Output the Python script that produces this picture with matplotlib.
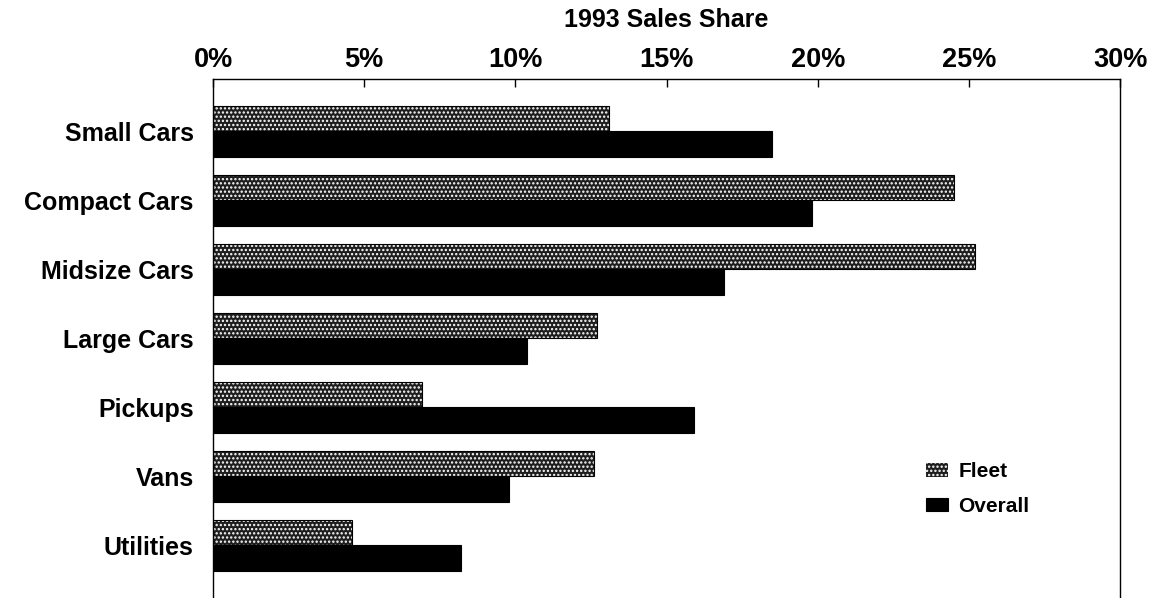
import matplotlib.pyplot as plt
from matplotlib.ticker import FuncFormatter

plt.rcParams['font.family'] = ['Liberation Sans', 'DejaVu Sans']
plt.rcParams['font.weight'] = 'bold'
plt.rcParams['hatch.linewidth'] = 1.1

categories = ['Small Cars', 'Compact Cars', 'Midsize Cars', 'Large Cars',
              'Pickups', 'Vans', 'Utilities']
fleet = [13.1, 24.5, 25.2, 12.7, 6.9, 12.6, 4.6]
overall = [18.5, 19.8, 16.9, 10.4, 15.9, 9.8, 8.2]
xticks = [0, 5, 10, 15, 20, 25, 30]

fig = plt.figure(figsize=(11.56, 5.98), dpi=100)
ax = fig.add_axes([0.1843, -0.020, 0.7846, 0.888])

pos = list(range(len(categories)))
h = 0.37
ax.barh([p - h / 2 for p in pos], fleet, height=h, color='#1e1e1e',
        hatch='....', edgecolor='white', linewidth=0, label='Fleet')
ax.barh([p - h / 2 for p in pos], fleet, height=h, fill=False,
        edgecolor='black', linewidth=0.8)
ax.barh([p + h / 2 for p in pos], overall, height=h, color='black',
        edgecolor='black', linewidth=0.8, label='Overall')

ax.set_xlim(0, 30)
ax.set_ylim(6.94, -0.76)
ax.set_xticks(xticks)
ax.xaxis.set_major_formatter(FuncFormatter(lambda v, _: f'{v:.0f}%'))
ax.xaxis.tick_top()
ax.tick_params(axis='x', direction='in', length=6, width=1, pad=4,
               labelsize=19.5)
ax.set_yticks(pos)
ax.set_yticklabels(categories, fontsize=18)
ax.tick_params(axis='y', length=0, pad=14)
for s in ax.spines.values():
    s.set_linewidth(1.0)

ax.xaxis.set_label_position('top')
ax.set_xlabel('1993 Sales Share', fontsize=18, fontweight='bold', labelpad=15)

ax.legend(loc='upper left', bbox_to_anchor=(0.801, 0.227),
          bbox_transform=fig.transFigure, frameon=False, fontsize=15,
          handlelength=1.05, handleheight=0.62, handletextpad=0.5,
          labelspacing=0.75, borderpad=0, borderaxespad=0)

fig.savefig('out.png', dpi=100)
